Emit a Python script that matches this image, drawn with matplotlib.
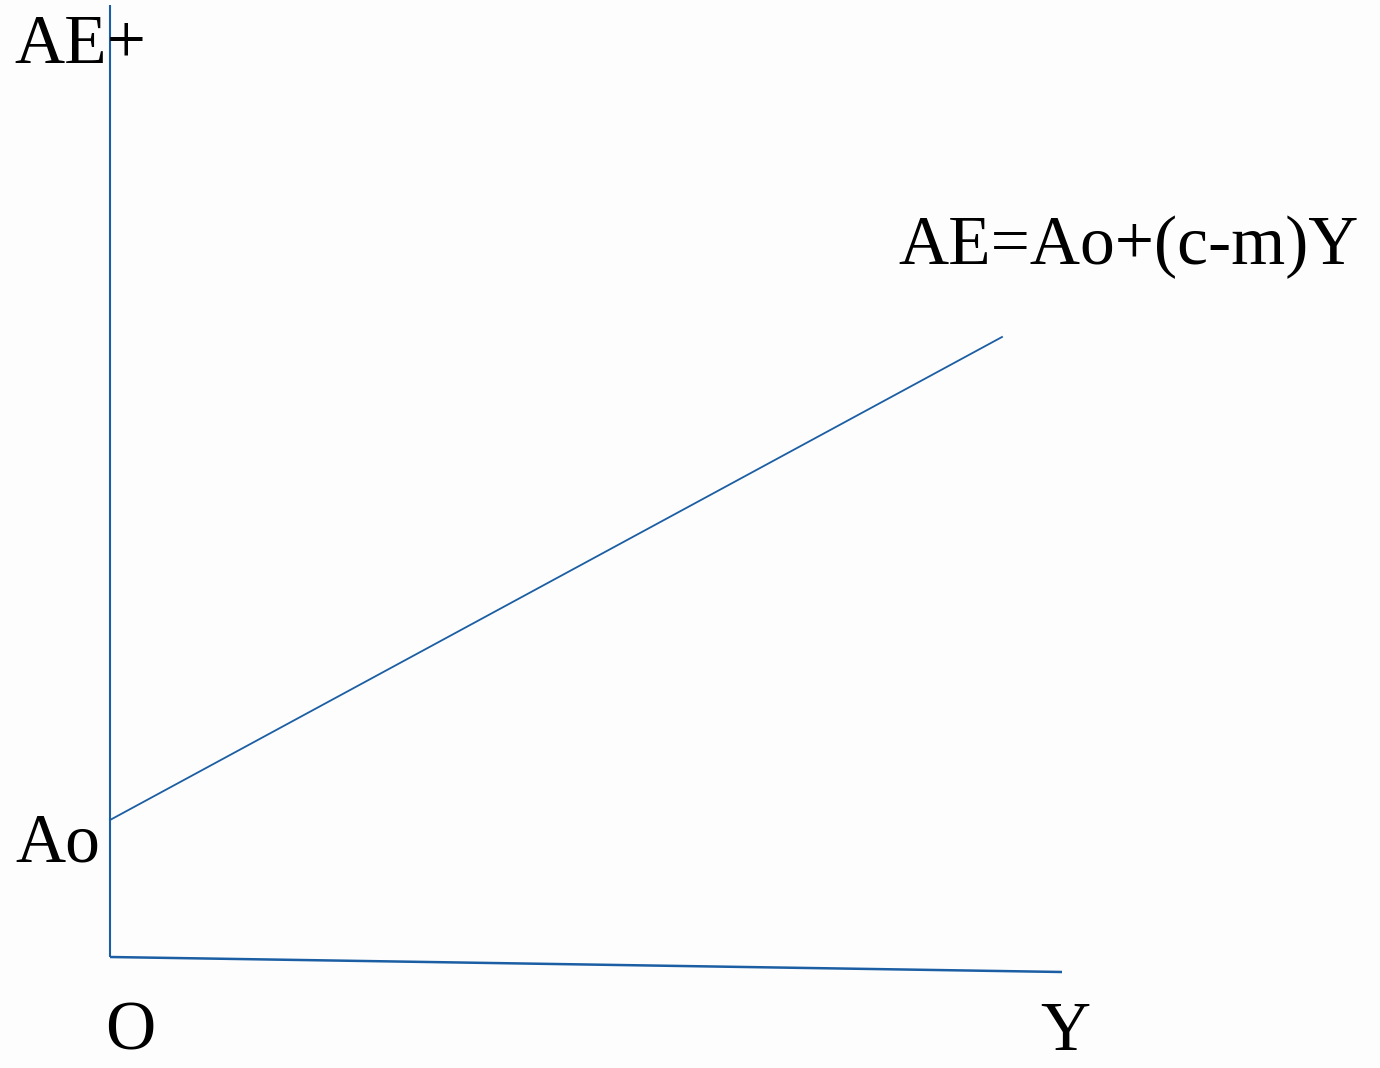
import matplotlib.pyplot as plt

# --- DATA (chart units, origin O at the corner of the axes) ---
Y_AXIS_X = [0, 0]
Y_AXIS_Y = [0, 952]
X_AXIS_X = [0, 952]
X_AXIS_Y = [0, -15]
AE_X = [0, 892]
AE_Y = [137, 620]

LABELS = ["AE+", "Ao", "O", "Y", "AE=Ao+(c-m)Y"]
LABEL_X = [-96, -95, -5, 930, 788]
LABEL_Y = [894, 95, -93, -93, 693]

LINE_COLOR = "#1b5ea3"

fig = plt.figure(figsize=(13.8, 10.68), dpi=100)
fig.patch.set_facecolor("#fdfdfd")
ax = fig.add_axes([0, 0, 1, 1])
ax.set_facecolor("#fdfdfd")
ax.set_xlim(-110, 1270)
ax.set_ylim(-111, 957)
ax.axis("off")

ax.plot(Y_AXIS_X, Y_AXIS_Y, color=LINE_COLOR, lw=1.5, solid_capstyle="butt")
ax.plot(X_AXIS_X, X_AXIS_Y, color=LINE_COLOR, lw=1.8, solid_capstyle="butt")
ax.plot(AE_X, AE_Y, color=LINE_COLOR, lw=1.3)

for txt, x, y in zip(LABELS, LABEL_X, LABEL_Y):
    ax.text(x, y, txt, fontsize=50, family="Liberation Serif",
            ha="left", va="baseline", color="black")

fig.savefig("out.png", dpi=100, facecolor=fig.get_facecolor())
